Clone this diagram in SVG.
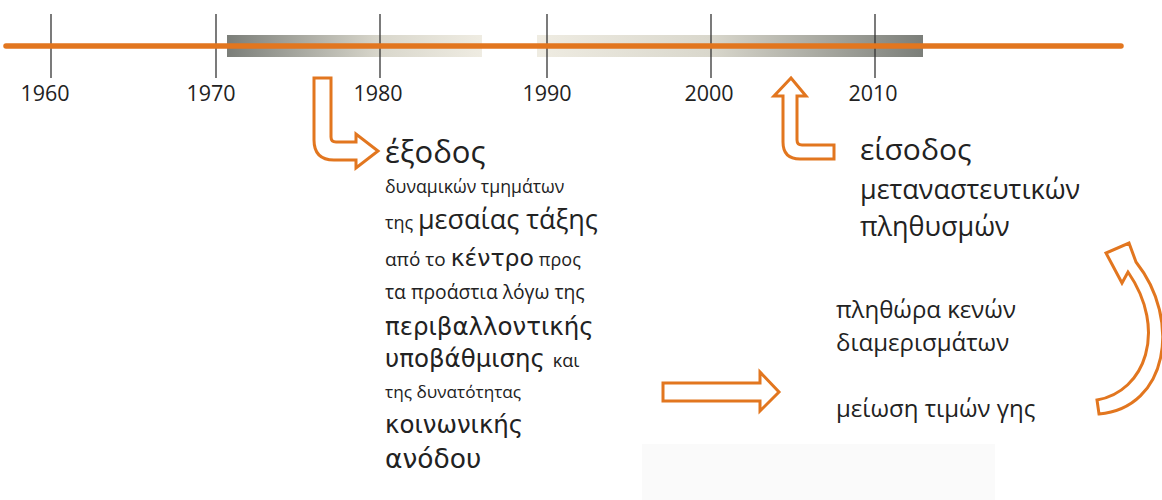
<svg xmlns="http://www.w3.org/2000/svg" width="1162" height="500" viewBox="0 0 1162 500">
<defs>
<linearGradient id="g1" x1="0" y1="0" x2="1" y2="0">
<stop offset="0" stop-color="#7b7e79"/>
<stop offset="0.6" stop-color="#d9d7cc"/>
<stop offset="1" stop-color="#efece2"/>
</linearGradient>
<linearGradient id="g2" x1="0" y1="0" x2="1" y2="0">
<stop offset="0" stop-color="#efece2"/>
<stop offset="0.45" stop-color="#d9d7cc"/>
<stop offset="1" stop-color="#7b7e79"/>
</linearGradient>
<style>
.t{font-family:"Open Sans","Noto Sans",sans-serif;fill:#222;}
.d{font-family:"DejaVu Sans","Noto Sans",sans-serif;}
.yr{font-size:21.5px;text-anchor:middle;}
.tick{stroke:#333;stroke-width:1.3;}
.arr{fill:#fff;stroke:#e2761f;stroke-width:3;stroke-linejoin:miter;}
.S{font-size:18px;}
.D{font-size:24.5px;}
.R{font-size:24px;}
</style>
</defs>
<rect x="642" y="444" width="353" height="56" fill="#fafafa"/>
<g id="timeline">
<rect x="227" y="35" width="255" height="22" fill="url(#g1)"/>
<rect x="537" y="35" width="386" height="22" fill="url(#g2)"/>
<line class="tick" x1="51" y1="14" x2="51" y2="78"/>
<line class="tick" x1="216" y1="14" x2="216" y2="78"/>
<line class="tick" x1="380" y1="14" x2="380" y2="78"/>
<line class="tick" x1="547" y1="14" x2="547" y2="78"/>
<line class="tick" x1="711" y1="14" x2="711" y2="78"/>
<line class="tick" x1="875" y1="14" x2="875" y2="78"/>
<line x1="6" y1="46" x2="1121" y2="46" stroke="#e2761f" stroke-width="5.5" stroke-linecap="round"/>
<text class="t yr" x="45" y="101">1960</text>
<text class="t yr" x="211" y="101">1970</text>
<text class="t yr" x="378" y="101">1980</text>
<text class="t yr" x="547" y="101">1990</text>
<text class="t yr" x="709" y="101">2000</text>
<text class="t yr" x="873" y="101">2010</text>
</g>
<g id="connectors">
<path class="arr" d="M314 78 L331 78 L331 137 Q331 142 336 142 L356 142 L356 134 L378 151 L356 168 L356 160 L334 160 Q314 160 314 140 Z"/>
<path class="arr" d="M791 78 L806 96 L797 96 L797 140 Q797 145 802 145 L834 145 L834 159 L800 159 Q783 159 783 142 L783 96 L774 96 Z"/>
<path class="arr" d="M663 383 L760 383 L760 372 L779 392 L760 411 L760 401 L663 401 Z"/>
<path class="arr" d="M1097 400 C1145 392 1168 330 1128 272 L1122 283 L1106 253 L1129 243 L1136 262 C1182 320 1168 408 1099 414 Z"/>
</g>
<g id="left-text">
<text class="t" x="385" y="163" font-size="31">έξοδος</text>
<text class="t" x="385" y="193" font-size="17.7">δυναμικών τμημάτων</text>
<text class="t S" x="385" y="229">της <tspan font-size="27">μεσαίας τάξης</tspan></text>
<text class="t" x="385" y="266" font-size="19">από το <tspan class="d" font-size="23.5">κέντρο</tspan> <tspan font-size="18">προς</tspan></text>
<text class="t" x="385" y="299" font-size="19.3">τα προάστια λόγω της</text>
<text class="t d D" x="385" y="335">περιβαλλοντικής</text>
<text class="t d D" x="385" y="367">υποβάθμισης <tspan class="t S">και</tspan></text>
<text class="t" x="385" y="398" font-size="17.2">της δυνατότητας</text>
<text class="t d D" x="385" y="433">κοινωνικής</text>
<text class="t d" x="385" y="468" font-size="26.5">ανόδου</text>
</g>
<g id="right-text">
<text class="t" x="860" y="160" font-size="30">είσοδος</text>
<text class="t" x="860" y="199" font-size="27">μεταναστευτικών</text>
<text class="t" x="860" y="236" font-size="27">πληθυσμών</text>
</g>
<g id="effects-text">
<text class="t R" x="836" y="318">πληθώρα κενών</text>
<text class="t R" x="836" y="351">διαμερισμάτων</text>
<text class="t R" x="836" y="417">μείωση τιμών γης</text>
</g>
</svg>
